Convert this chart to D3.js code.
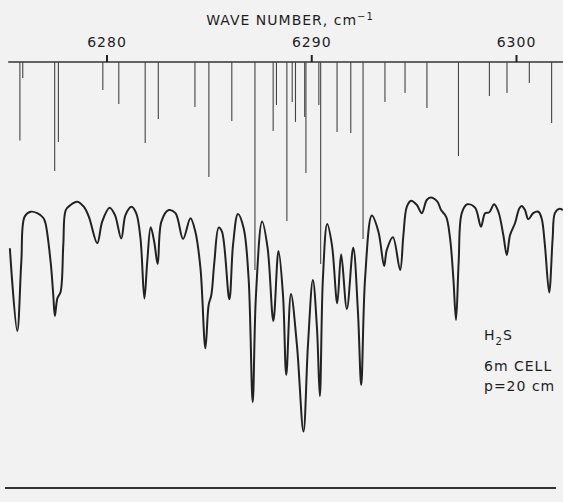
<!DOCTYPE html>
<html>
<head>
<meta charset="utf-8">
<script src="https://cdn.jsdelivr.net/npm/d3@7"></script>
<style>
  body { margin: 0; background: #f2f2f2; }
  svg { display: block; }
  text { font-family: "DejaVu Sans", sans-serif; fill: #1e1e1e; letter-spacing: 1px; }
</style>
</head>
<body>
<div id="chart"></div>
<script>
// H2S spectrum near 6290 cm-1, 6m cell, p = 20 cm
var width = 563, height = 502;

// axis
var tickValues = [6280, 6290, 6300];
var axisExtent = [6275.2, 6302.4];

// calculated line positions (wave number) and relative strengths
var lineWn = [6275.77, 6275.91, 6277.47, 6277.65, 6279.82, 6280.60, 6281.89, 6282.53,
  6284.32, 6285.00, 6286.12, 6287.25, 6288.14, 6288.30, 6288.81, 6289.07, 6289.23,
  6289.68, 6289.74, 6290.37, 6290.46, 6291.26, 6291.93, 6292.53, 6293.60, 6294.58,
  6295.65, 6297.19, 6298.70, 6299.56, 6300.65, 6301.74];
var lineStrength = [37.8, 7.7, 52.4, 38.5, 13.5, 20.2, 38.9, 27.4,
  21.6, 55.3, 28.4, 100, 33.2, 20.7, 76.4, 19.2, 28.8,
  26.4, 53.4, 20.7, 97.1, 33.7, 34.1, 85.1, 19.2, 14.9,
  22.1, 45.2, 16.3, 14.9, 10.1, 29.3];

// observed trace: wave number and transmission (arbitrary units)
var traceWn = [6275.28, 6275.64, 6275.84, 6276.00, 6276.29, 6276.62, 6276.91, 6277.02,
  6277.27, 6277.40, 6277.48, 6277.60, 6277.76, 6277.89, 6278.01, 6278.24, 6278.57,
  6278.89, 6279.14, 6279.55, 6279.79, 6280.15, 6280.41, 6280.72, 6280.93, 6281.22,
  6281.45, 6281.66, 6281.85, 6281.99, 6282.16, 6282.33, 6282.50, 6282.68, 6283.04,
  6283.37, 6283.74, 6284.10, 6284.34, 6284.59, 6284.83, 6284.99, 6285.12, 6285.27,
  6285.48, 6285.64, 6286.00, 6286.18, 6286.42, 6286.70, 6286.94, 6287.14, 6287.30,
  6287.60, 6287.87, 6288.15, 6288.40, 6288.62, 6288.78, 6289.01, 6289.30, 6289.62,
  6289.84, 6290.08, 6290.28, 6290.42, 6290.57, 6290.78, 6291.01, 6291.27, 6291.46,
  6291.74, 6292.05, 6292.28, 6292.44, 6292.63, 6292.96, 6293.28, 6293.56, 6293.69,
  6293.99, 6294.34, 6294.50, 6294.67, 6294.88, 6295.16, 6295.40, 6295.64, 6295.84,
  6296.16, 6296.34, 6296.59, 6296.78, 6296.94, 6297.07, 6297.20, 6297.35, 6297.62,
  6298.00, 6298.29, 6298.49, 6298.70, 6298.93, 6299.14, 6299.38, 6299.55, 6299.71,
  6299.95, 6300.16, 6300.28, 6300.44, 6300.60, 6300.84, 6301.09, 6301.25, 6301.41,
  6301.62, 6301.79, 6301.90, 6302.11, 6302.29];
var traceT = [79.9, 45.4, 74.3, 93.0, 95.1, 94.5, 92.6, 90.3,
  74.3, 60.4, 51.7, 59.0, 61.8, 81.3, 95.8, 97.9, 99.3,
  97.2, 93.0, 82.0, 91.0, 96.8, 93.8, 84.0, 93.8, 97.2,
  94.5, 84.0, 59.0, 74.3, 88.6, 82.6, 73.3, 91.0, 95.8,
  94.5, 83.8, 92.4, 86.8, 71.5, 38.2, 56.3, 60.4, 74.3,
  88.5, 86.8, 58.6, 81.3, 94.2, 88.2, 67.4, 15.7, 60.4,
  91.0, 79.9, 49.6, 78.8, 60.4, 27.1, 60.8, 39.6, 3.5,
  39.6, 66.7, 46.5, 18.3, 67.4, 90.0, 81.3, 57.0, 77.4,
  54.6, 80.1, 53.5, 22.9, 67.4, 93.5, 86.8, 72.5, 79.2,
  84.5, 70.8, 85.4, 97.2, 99.7, 97.9, 94.5, 100, 101,
  99.3, 95.8, 93.0, 84.0, 67.4, 50.0, 74.3, 94.5, 98.2,
  96.8, 88.9, 94.5, 94.9, 98.2, 95.1, 85.4, 77.1, 85.4,
  90.3, 96.5, 97.5, 95.8, 92.0, 94.5, 95.1, 92.4, 81.3,
  61.5, 84.0, 94.5, 96.3, 95.8];

var notes = ["6m CELL", "p=20 cm"];

var x = d3.scaleLinear().domain([6280, 6300]).range([106.5, 516]);
var axisY = 62;
var yStick = d3.scaleLinear().domain([0, 100]).range([axisY, axisY + 208]);
var yT = d3.scaleLinear().domain([0, 100]).range([440, 200]);

var svg = d3.select("#chart").append("svg").attr("width", width).attr("height", height);

// title
var title = svg.append("text").attr("x", 290).attr("y", 25).attr("text-anchor", "middle")
  .style("font-size", "14px");
title.append("tspan").text("WAVE NUMBER, cm");
title.append("tspan").attr("dy", -5).style("font-size", "10px").text("−1");

// axis line
svg.append("line")
  .attr("x1", x(axisExtent[0])).attr("x2", x(axisExtent[1]))
  .attr("y1", axisY).attr("y2", axisY)
  .attr("stroke", "#333").attr("stroke-width", 1.5);

var axis = d3.axisTop(x).tickValues(tickValues).tickSize(7).tickPadding(8).tickFormat(d3.format("d"));
var gAxis = svg.append("g").attr("transform", "translate(0," + axisY + ")").call(axis);
gAxis.select(".domain").remove();
gAxis.selectAll(".tick line").attr("stroke", "#222").attr("stroke-width", 2);
gAxis.selectAll(".tick text").style("font-size", "14px").attr("fill", "#1e1e1e")
  .style("font-family", "DejaVu Sans, sans-serif");

// stick spectrum
svg.append("g").selectAll("line").data(lineWn).enter().append("line")
  .attr("x1", function(d) { return x(d); }).attr("x2", function(d) { return x(d); })
  .attr("y1", axisY).attr("y2", function(d, i) { return yStick(lineStrength[i]); })
  .attr("stroke", "#444").attr("stroke-width", 1.1);

// observed trace
var trace = traceWn.map(function(d, i) { return [d, traceT[i]]; });
var line = d3.line().x(function(d) { return x(d[0]); }).y(function(d) { return yT(d[1]); })
  .curve(d3.curveCatmullRom.alpha(0.5));
svg.append("path").datum(trace).attr("d", line)
  .attr("fill", "none").attr("stroke", "#222").attr("stroke-width", 2)
  .attr("stroke-linejoin", "round");

// labels
var lab = svg.append("text").attr("x", 484).attr("y", 340).style("font-size", "14px");
lab.append("tspan").text("H");
lab.append("tspan").attr("dy", 5).style("font-size", "10px").text("2");
lab.append("tspan").attr("dy", -5).text("S");
svg.selectAll(".note").data(notes).enter().append("text").attr("class", "note")
  .attr("x", 484).attr("y", function(d, i) { return 371 + i * 20; })
  .style("font-size", "14px").text(function(d) { return d; });

// bottom rule
svg.append("line").attr("x1", 5).attr("x2", 556).attr("y1", 488).attr("y2", 488)
  .attr("stroke", "#333").attr("stroke-width", 2);
</script>
</body>
</html>
